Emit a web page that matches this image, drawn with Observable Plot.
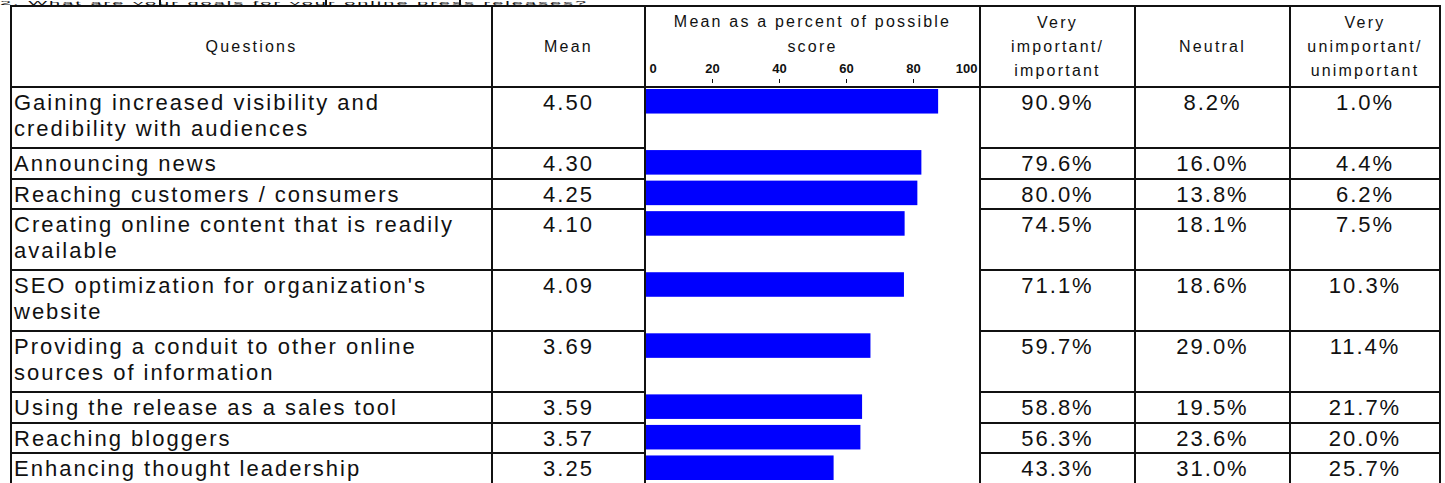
<!DOCTYPE html>
<html>
<head>
<meta charset="utf-8">
<script src="https://cdn.jsdelivr.net/npm/d3@7"></script>
<script src="https://cdn.jsdelivr.net/npm/@observablehq/plot@0.6"></script>
<style>
  html, body { margin: 0; padding: 0; background: #fff; }
  #page { position: relative; width: 1445px; height: 483px; overflow: hidden; background: #fff;
          font-family: "Liberation Sans", Arial, sans-serif; color: #111; }
  .ln { position: absolute; background: #111; z-index: 5; }
  .cell { position: absolute; white-space: pre; z-index: 4; }
  .body { font-size: 22px; line-height: 26px; letter-spacing: 2px; padding-top: 3px; }
  .hdr { font-size: 16px; line-height: 24px; letter-spacing: 2.2px; display: flex; align-items: center;
         justify-content: center; text-align: center; }
  .title { position: absolute; left: 0; top: 0; font-size: 20px; line-height: 20px; letter-spacing: 2px;
           white-space: pre; transform: scaleY(0.27); transform-origin: 0 0; }
  #bars { position: absolute; z-index: 2; }
</style>
</head>
<body>
<div id="page"></div>
<script>
// ---------- data ----------
const questions = [
  "Gaining increased visibility and\ncredibility with audiences",
  "Announcing news",
  "Reaching customers / consumers",
  "Creating online content that is readily\navailable",
  "SEO optimization for organization's\nwebsite",
  "Providing a conduit to other online\nsources of information",
  "Using the release as a sales tool",
  "Reaching bloggers",
  "Enhancing thought leadership"
];
const means = ["4.50", "4.30", "4.25", "4.10", "4.09", "3.69", "3.59", "3.57", "3.25"];
const meanPct = [87.5, 82.5, 81.3, 77.5, 77.3, 67.3, 64.8, 64.3, 56.3];
const important = ["90.9%", "79.6%", "80.0%", "74.5%", "71.1%", "59.7%", "58.8%", "56.3%", "43.3%"];
const neutral = ["8.2%", "16.0%", "13.8%", "18.1%", "18.6%", "29.0%", "19.5%", "23.6%", "31.0%"];
const unimportant = ["1.0%", "4.4%", "6.2%", "7.5%", "10.3%", "11.4%", "21.7%", "20.0%", "25.7%"];
const xTicks = [0, 20, 40, 60, 80, 100];
const headers = ["Questions", "Mean", "Mean as a percent of possible\nscore", "Very\nimportant/\nimportant", "Neutral", "Very\nunimportant/\nunimportant"];
const titleText = "2. What are your goals for your online press releases?";

// ---------- layout ----------
const COLS = [11, 492, 645, 980, 1135, 1290, 1440];
const TOP = 6, HEAD = 87, LINE = 30.5, BOTTOM = 490;

let start = 0;
const rows = questions.map((q, i) => {
  const lines = q.split("\n").length;
  const r = {q, mean: means[i], pct: meanPct[i], imp: important[i], neu: neutral[i], unimp: unimportant[i], start, lines};
  start += lines;
  return r;
});
const totalLines = start;

const page = document.getElementById("page");
function el(cls, css, text) {
  const d = document.createElement("div");
  d.className = cls;
  Object.assign(d.style, css);
  if (text != null) d.textContent = text;
  page.appendChild(d);
  return d;
}
function vline(x, y1, y2) { el("ln", {left: (x - 1) + "px", top: y1 + "px", width: "2px", height: (y2 - y1) + "px"}); }
function hline(y, x1, x2) { el("ln", {left: (x1 - 1) + "px", top: (y - 1) + "px", width: (x2 - x1 + 2) + "px", height: "2px"}); }

// title strip (only its lower part shows in the reference)
el("title", {}, titleText);
[160, 326, 460].forEach(x => vline(x, 0, TOP));

// grid
COLS.forEach(x => vline(x, TOP, BOTTOM));
hline(TOP, COLS[0], COLS[6]);
hline(HEAD, COLS[0], COLS[6]);
rows.forEach((r, i) => {
  if (i === 0) return;
  const y = HEAD + r.start * LINE;
  hline(y, COLS[0], COLS[2]);
  hline(y, COLS[3], COLS[6]);
});

// header cells
headers.forEach((h, j) => {
  if (j === 2) {
    el("cell hdr", {left: COLS[2] + "px", width: (COLS[3] - COLS[2]) + "px", top: (TOP + 3) + "px",
                    height: "50px", lineHeight: "25px", alignItems: "flex-start"}, h);
  } else {
    el("cell hdr", {left: COLS[j] + "px", width: (COLS[j + 1] - COLS[j]) + "px", top: TOP + "px",
                    height: (HEAD - TOP) + "px"}, h);
  }
});

// body cells
rows.forEach(r => {
  const top = HEAD + r.start * LINE;
  el("cell body", {left: (COLS[0] + 3) + "px", top: top + "px"}, r.q);
  const centered = [[1, r.mean], [3, r.imp], [4, r.neu], [5, r.unimp]];
  centered.forEach(([j, t]) => {
    el("cell body", {left: COLS[j] + "px", width: (COLS[j + 1] - COLS[j]) + "px", top: top + "px", textAlign: "center"}, t);
  });
});

// ---------- bar column drawn with Plot ----------
const marginTop = HEAD - TOP;
const chart = Plot.plot({
  width: COLS[3] - COLS[2],
  height: Math.ceil(marginTop + totalLines * LINE),
  marginTop,
  marginLeft: 0,
  marginRight: 0,
  marginBottom: 0,
  style: {fontFamily: "Liberation Sans, Arial, sans-serif", background: "transparent", color: "#111"},
  x: {domain: [0, 100]},
  y: {domain: [0, totalLines], reverse: true, axis: null},
  marks: [
    Plot.rect(rows, {x1: 0, x2: "pct", y1: "start", y2: d => d.start + 1, fill: "#0000ff", insetTop: 2, insetBottom: 4}),
    Plot.axisX(xTicks.slice(1, -1), {anchor: "top", tickSize: 4, tickPadding: 6, dy: -5, fontSize: 13,
                                     fontWeight: "bold", label: null, stroke: "#111"}),
    Plot.text(xTicks.slice(0, 1), {x: d => d, text: d => String(d), frameAnchor: "top", lineAnchor: "bottom",
                                   textAnchor: "start", dx: 4, dy: -15, fontSize: 13, fontWeight: "bold"}),
    Plot.text(xTicks.slice(-1), {x: d => d, text: d => String(d), frameAnchor: "top", lineAnchor: "bottom",
                                  textAnchor: "end", dx: -3, dy: -15, fontSize: 13, fontWeight: "bold"})
  ]
});
const holder = document.createElement("div");
holder.id = "bars";
holder.style.left = COLS[2] + "px";
holder.style.top = TOP + "px";
holder.appendChild(chart);
page.appendChild(holder);
</script>
</body>
</html>
